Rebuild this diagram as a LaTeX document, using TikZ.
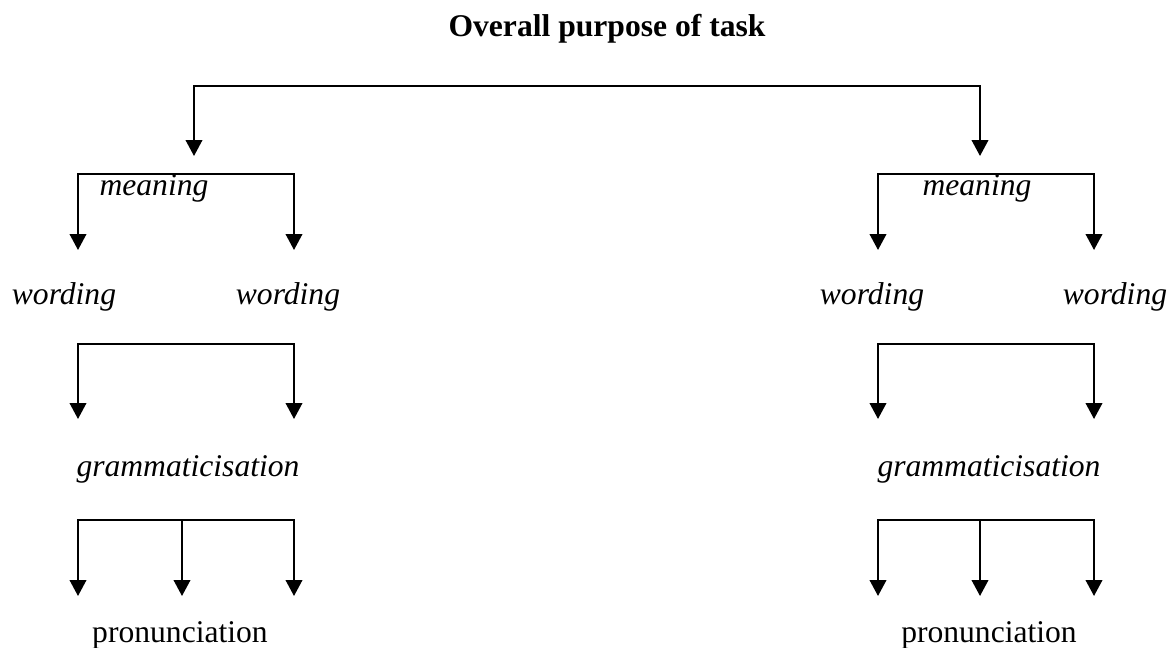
\documentclass[tikz,border=0pt]{standalone}
\usepackage{fontspec}
\setmainfont{Liberation Serif}
\usetikzlibrary{arrows.meta}
\begin{document}
\begin{tikzpicture}[x=0.5pt,y=-0.5pt,
  txt/.style={inner sep=0pt, anchor=base, font=\fontsize{15.8}{19}\selectfont},
  itl/.style={txt, font=\fontsize{15.8}{19}\selectfont\itshape},
  ttl/.style={txt, font=\fontsize{15.8}{19}\selectfont\bfseries},
  ln/.style={line width=1pt, line cap=rect},
  arr/.style={line width=1pt, -{Triangle[width=8.3pt,length=8pt]}}]
\useasboundingbox (0,0) rectangle (1173,648);
% texts
\node[ttl] (title) at (607,36) {Overall purpose of task};
\node[itl] (mL) at (154,195) {meaning};
\node[itl] (mR) at (977,195) {meaning};
\node[itl] (wL1) at (64,304) {wording};
\node[itl] (wL2) at (288,304) {wording};
\node[itl] (wR1) at (872,304) {wording};
\node[itl] (wR2) at (1115,304) {wording};
\node[itl] (gL) at (188,476) {grammaticisation};
\node[itl] (gR) at (989,476) {grammaticisation};
\node[txt] (pL) at (180,642) {pronunciation};
\node[txt] (pR) at (989,642) {pronunciation};
% top bracket
\coordinate (tL) at (194,86); \coordinate (tR) at (980,86);
\coordinate (aL) at (194,156); \coordinate (aR) at (980,156);
\draw[ln] (tL) -- (tR);
\draw[arr] (tL) -- (aL);
\draw[arr] (tR) -- (aR);
% level brackets
\foreach \xa/\xb/\ya/\yb in {78/294/174/250, 878/1094/174/250, 78/294/344/419, 878/1094/344/419}{
  \coordinate (b1) at (\xa,\ya); \coordinate (b2) at (\xb,\ya);
  \draw[ln] (b1) -- (b2);
  \draw[arr] (b1) -- (\xa,\yb);
  \draw[arr] (b2) -- (\xb,\yb);
}
% pronunciation brackets
\foreach \xa/\xm/\xb in {78/182/294, 878/980/1094}{
  \coordinate (c1) at (\xa,520); \coordinate (c2) at (\xb,520); \coordinate (cm) at (\xm,520);
  \draw[ln] (c1) -- (c2);
  \draw[arr] (c1) -- (\xa,596);
  \draw[arr] (cm) -- (\xm,596);
  \draw[arr] (c2) -- (\xb,596);
}
\end{tikzpicture}
\end{document}
